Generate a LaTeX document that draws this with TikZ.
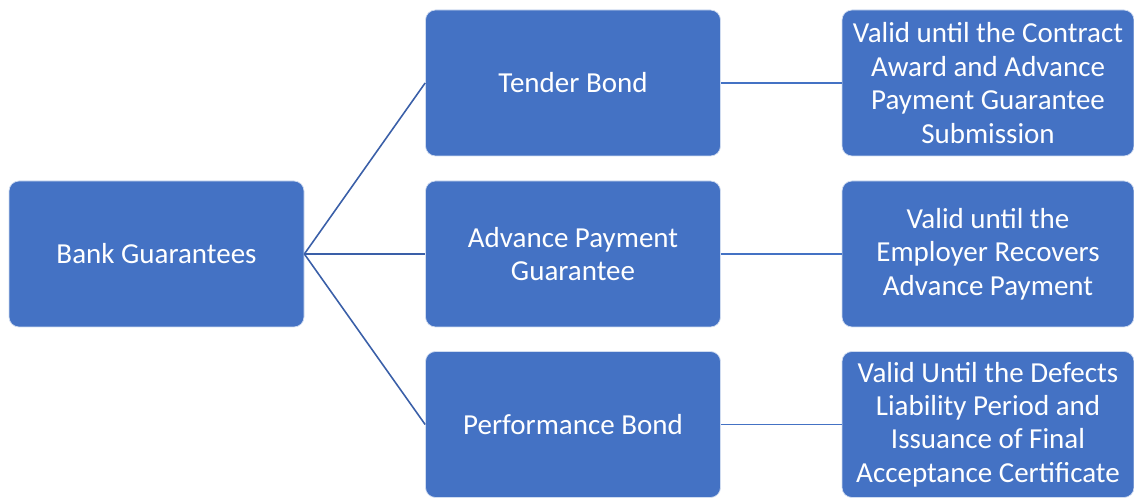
\documentclass[tikz,border=0pt]{standalone}
\usepackage{fontspec}
\setmainfont{Carlito}
\definecolor{boxblue}{HTML}{4472C4}
\definecolor{linkblue}{HTML}{3A5FA8}

\begin{document}
\begin{tikzpicture}[
		gbox/.style={rectangle, rounded corners=0.2cm, fill=boxblue, draw=white!75!boxblue, line width=0.4pt,
			text=white, align=center, inner sep=0pt, minimum width=5.9cm, minimum height=2.92cm,
			font=\fontsize{16.5}{19}\selectfont},
		nbox/.style={gbox, minimum width=5.84cm},
		link/.style={draw=linkblue, line width=0.9pt}
	]
		\useasboundingbox (0,0) rectangle (22.68,9.96);

		\draw (3.13,4.88) node[gbox] (bank) {Bank Guarantees};

		\draw (11.46,8.30) node[gbox] (tender) {Tender Bond};
		\draw (11.46,4.88) node[gbox] (advance) {Advance Payment\\Guarantee};
		\draw (11.46,1.47) node[gbox] (perf) {Performance Bond};

		\draw (19.76,8.30) node[nbox] (tendernote) {Valid until the Contract\\Award and Advance\\Payment Guarantee\\Submission};
		\draw (19.76,4.88) node[nbox] (advancenote) {Valid until the\\Employer Recovers\\Advance Payment};
		\draw (19.76,1.47) node[nbox] (perfnote) {Valid Until the Defects\\Liability Period and\\Issuance of Final\\Acceptance Certificate};

		\path[link]
		(bank.east) edge (tender.west)
		(bank.east) edge (advance.west)
		(bank.east) edge (perf.west)
		(tender) edge[draw=boxblue] (tendernote)
		(advance) edge[draw=boxblue] (advancenote)
		(perf) edge[draw=boxblue] (perfnote)
		;
	\end{tikzpicture}
\end{document}
